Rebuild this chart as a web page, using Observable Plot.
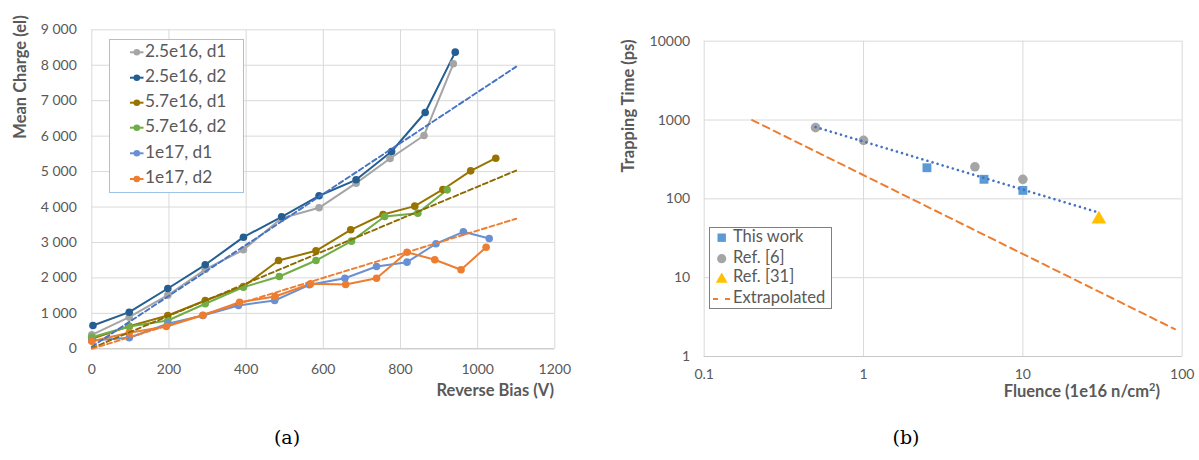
<!DOCTYPE html>
<html><head><meta charset="utf-8">
<script src="https://cdn.jsdelivr.net/npm/d3@7"></script>
<script src="https://cdn.jsdelivr.net/npm/@observablehq/plot@0.6"></script>
<style>
body{margin:0;background:#fff;}
#wrap{position:relative;width:1199px;height:460px;overflow:hidden;background:#fff;}
#wrap > svg{position:absolute;}
</style></head><body><div id="wrap"></div>
<script>
// ---------- Panel (a): Mean charge vs reverse bias ----------
const seriesNamesA = ["2.5e16, d1", "2.5e16, d2", "5.7e16, d1", "5.7e16, d2", "1e17, d1", "1e17, d2"];
const seriesColorsA = ["#A5A5A5", "#255E91", "#997300", "#70AD47", "#6A90D4", "#ED7D31"];

const bias_25e16_d1 = [0, 97, 197, 294, 393, 492, 589, 685, 773, 861, 937];
const charge_25e16_d1 = [395, 892, 1512, 2238, 2793, 3685, 3978, 4673, 5369, 6018, 8041];
const bias_25e16_d2 = [3, 97, 197, 294, 393, 492, 589, 685, 777, 864, 942];
const charge_25e16_d2 = [657, 1033, 1701, 2370, 3149, 3724, 4317, 4768, 5567, 6667, 8369];
const bias_57e16_d1 = [0, 97, 197, 294, 393, 484, 581, 671, 755, 837, 910, 982, 1047];
const charge_57e16_d1 = [282, 638, 940, 1363, 1758, 2491, 2765, 3357, 3789, 4025, 4495, 5020, 5378];
const bias_57e16_d2 = [0, 97, 197, 294, 393, 486, 581, 673, 759, 845, 921];
const charge_57e16_d2 = [328, 629, 798, 1270, 1739, 2040, 2491, 3037, 3733, 3827, 4485];
const bias_1e17_d1 = [0, 97, 197, 288, 380, 474, 564, 656, 738, 817, 892, 963, 1030];
const charge_1e17_d1 = [234, 310, 705, 940, 1222, 1363, 1806, 1992, 2322, 2444, 2963, 3301, 3112];
const bias_1e17_d2 = [0, 97, 193, 288, 383, 475, 567, 658, 738, 817, 889, 957, 1022];
const charge_1e17_d2 = [214, 451, 629, 948, 1315, 1476, 1834, 1814, 1992, 2726, 2511, 2229, 2867];

// linear trend lines (end points)
const trendBias = [0, 1100];
const trend_25e16 = [60, 7960];
const trend_57e16 = [20, 5030];
const trend_1e17 = [0, 3670];
const trendColorsA = ["#4472C4", "#8C6A00", "#ED7D31"];

const xTicksA = [0, 200, 400, 600, 800, 1000, 1200];
const yTicksA = [0, 1000, 2000, 3000, 4000, 5000, 6000, 7000, 8000, 9000];

// ---------- Panel (b): Trapping time vs fluence ----------
const fluence_thisWork = [2.5, 5.7, 10];
const time_thisWork = [248, 177, 128];
const fluence_ref6 = [0.5, 1, 5, 10];
const time_ref6 = [800, 552, 255, 177];
const fluence_ref31 = [30];
const time_ref31 = [55];
const fluence_fit = [0.5, 30];
const time_fit = [815, 67];
const fluence_extrap = [0.2, 90];
const time_extrap = [1000, 2.22];
const legendNamesB = ["This work", "Ref. [6]", "Ref. [31]", "Extrapolated"];

const xTicksB = [0.1, 1, 10, 100];
const yTicksB = [1, 10, 100, 1000, 10000];

// ---------- build tables ----------
const FONT = "Lato, 'Open Sans', sans-serif";
const TXT = "#595959";
const GRID = "#d9d9d9";

const biasA = [bias_25e16_d1, bias_25e16_d2, bias_57e16_d1, bias_57e16_d2, bias_1e17_d1, bias_1e17_d2];
const chargeA = [charge_25e16_d1, charge_25e16_d2, charge_57e16_d1, charge_57e16_d2, charge_1e17_d1, charge_1e17_d2];
const rowsA = [];
seriesNamesA.forEach((name, k) => biasA[k].forEach((b, i) => rowsA.push({series: name, bias: b, charge: chargeA[k][i]})));
const trends = [trend_25e16, trend_57e16, trend_1e17].map((t, k) =>
  trendBias.map((b, i) => ({bias: b, charge: t[i], color: trendColorsA[k]})));

const fmtSpace = d => d3.format(",")(d).replace(/,/g, " ");

const plotA = Plot.plot({
  width: 580, height: 400,
  marginLeft: 91.3, marginRight: 25.7, marginTop: 29.3, marginBottom: 51.7,
  style: {fontFamily: FONT, fontSize: "14px", color: TXT, background: "transparent"},
  x: {domain: [0, 1200], ticks: xTicksA, tickFormat: d => String(d), tickSize: 0, tickPadding: 15, label: null},
  y: {domain: [0, 9000], ticks: yTicksA, tickSize: 0, tickPadding: 15, tickFormat: fmtSpace, label: null},
  color: {domain: seriesNamesA, range: seriesColorsA},
  marks: [
    Plot.gridX(xTicksA, {stroke: GRID, strokeOpacity: 1}),
    Plot.gridY(yTicksA, {stroke: GRID, strokeOpacity: 1}),
    Plot.ruleY([0], {stroke: "#c8c8c8"}),
    Plot.line(rowsA, {x: "bias", y: "charge", z: "series", stroke: "series", strokeWidth: 2}),
    Plot.dot(rowsA, {x: "bias", y: "charge", fill: "series", r: 3.8}),
    ...trends.map(t => Plot.line(t, {x: "bias", y: "charge", stroke: t[0].color, strokeWidth: 1.9, strokeDasharray: "5,3"}))
  ]
});
plotA.style.left = "0px"; plotA.style.top = "0px";

const ptsThis = fluence_thisWork.map((f, i) => ({f, t: time_thisWork[i]}));
const ptsRef6 = fluence_ref6.map((f, i) => ({f, t: time_ref6[i]}));
const ptsRef31 = fluence_ref31.map((f, i) => ({f, t: time_ref31[i]}));
const ptsFit = fluence_fit.map((f, i) => ({f, t: time_fit[i]}));
const ptsExt = fluence_extrap.map((f, i) => ({f, t: time_extrap[i]}));

const plotB = Plot.plot({
  width: 599, height: 400,
  marginLeft: 103.7, marginRight: 17.3, marginTop: 40.7, marginBottom: 44,
  style: {fontFamily: FONT, fontSize: "14px", color: TXT, background: "transparent"},
  x: {type: "log", domain: [0.1, 100], ticks: xTicksB, tickFormat: d => String(d), tickSize: 0, tickPadding: 13, label: null},
  y: {type: "log", domain: [1, 10000], ticks: yTicksB, tickFormat: d => String(d), tickSize: 0, tickPadding: 14, label: null},
  marks: [
    Plot.gridX(xTicksB, {stroke: GRID, strokeOpacity: 1}),
    Plot.gridY(yTicksB, {stroke: GRID, strokeOpacity: 1}),
    Plot.ruleY([1], {stroke: "#c8c8c8"}),
    Plot.line(ptsExt, {x: "f", y: "t", stroke: "#ED7D31", strokeWidth: 2, strokeDasharray: "7,5"}),
    Plot.dot(ptsThis, {x: "f", y: "t", symbol: "square", fill: "#5B9BD5", r: 5}),
    Plot.dot(ptsRef6, {x: "f", y: "t", symbol: "circle", fill: "#A5A5A5", r: 4.8}),
    Plot.dot(ptsRef31, {x: "f", y: "t", symbol: "triangle", fill: "#FFC000", r: 5.5}),
    Plot.line(ptsFit, {x: "f", y: "t", stroke: "#4472C4", strokeWidth: 2.6, strokeDasharray: "0.01,5.3", strokeLinecap: "round"})
  ]
});
plotB.style.left = "600px"; plotB.style.top = "0px";

const wrap = document.getElementById("wrap");
wrap.appendChild(plotA);
wrap.appendChild(plotB);

// ---------- overlay: titles, legends, captions ----------
const ov = d3.select(wrap).append("svg")
  .attr("width", 1199).attr("height", 460)
  .style("left", "0px").style("top", "0px")
  .style("font-family", FONT);

function title(x, y, text, rot, anchor) {
  ov.append("text").attr("x", x).attr("y", y)
    .attr("transform", rot ? `rotate(-90 ${x} ${y})` : null)
    .attr("text-anchor", anchor || "middle").attr("dominant-baseline", "middle")
    .attr("font-weight", "bold").attr("font-size", 16.5).attr("fill", TXT).text(text);
}
title(22, 77, "Mean Charge (el)", true);
title(554, 392, "Reverse Bias (V)", false, "end");
title(630, 106, "Trapping Time (ps)", true);
const fl = ov.append("text").attr("x", 1160).attr("y", 393)
  .attr("text-anchor", "end").attr("dominant-baseline", "middle")
  .attr("font-weight", "bold").attr("font-size", 16.5).attr("fill", TXT);
fl.append("tspan").text("Fluence (1e16 n/cm");
fl.append("tspan").attr("font-size", 11).attr("dy", -5).text("2");
fl.append("tspan").attr("dy", 5).text(")");

// legend (a)
const la = ov.append("g");
la.append("rect").attr("x", 109.5).attr("y", 39.5).attr("width", 134).attr("height", 153)
  .attr("fill", "#fff").attr("stroke", "#9DC3E6").attr("stroke-width", 1);
const legYA = [52.3, 77.7, 102.7, 127.7, 153.3, 179];
seriesNamesA.forEach((n, i) => {
  const y = legYA[i];
  la.append("line").attr("x1", 130).attr("x2", 143.5).attr("y1", y).attr("y2", y)
    .attr("stroke", seriesColorsA[i]).attr("stroke-width", 2);
  la.append("circle").attr("cx", 136.8).attr("cy", y).attr("r", 3.3).attr("fill", seriesColorsA[i]);
  la.append("text").attr("x", 145).attr("y", y).attr("dominant-baseline", "middle")
    .attr("font-size", 17.3).attr("fill", TXT).text(n);
});

// legend (b)
const lb = ov.append("g");
lb.append("rect").attr("x", 709.5).attr("y", 227.5).attr("width", 122).attr("height", 81)
  .attr("fill", "#fff").attr("stroke", "#7f7f7f").attr("stroke-width", 1);
const legYB = [237.7, 258.7, 278.3, 299];
lb.append("rect").attr("x", 717.5).attr("y", legYB[0] - 4.2).attr("width", 8.4).attr("height", 8.4).attr("fill", "#5B9BD5");
lb.append("circle").attr("cx", 721.7).attr("cy", legYB[1]).attr("r", 4.6).attr("fill", "#A5A5A5");
lb.append("path").attr("d", d3.symbol(d3.symbolTriangle, 60)()).attr("transform", `translate(721.7,${legYB[2] + 1})`).attr("fill", "#FFC000");
lb.append("line").attr("x1", 713).attr("x2", 731).attr("y1", legYB[3]).attr("y2", legYB[3])
  .attr("stroke", "#ED7D31").attr("stroke-width", 2).attr("stroke-dasharray", "5,7");
legendNamesB.forEach((n, i) => {
  lb.append("text").attr("x", 733).attr("y", legYB[i]).attr("dominant-baseline", "middle")
    .attr("font-size", 16.5).attr("fill", TXT).text(n);
});

// captions
[["(a)", 287], ["(b)", 906]].forEach(([t, x]) => {
  ov.append("text").attr("x", x).attr("y", 439).attr("text-anchor", "middle").attr("dominant-baseline", "middle")
    .attr("font-family", "'DejaVu Serif', 'Liberation Serif', serif").attr("font-size", 19).attr("fill", "#000").text(t);
});
</script></body></html>
